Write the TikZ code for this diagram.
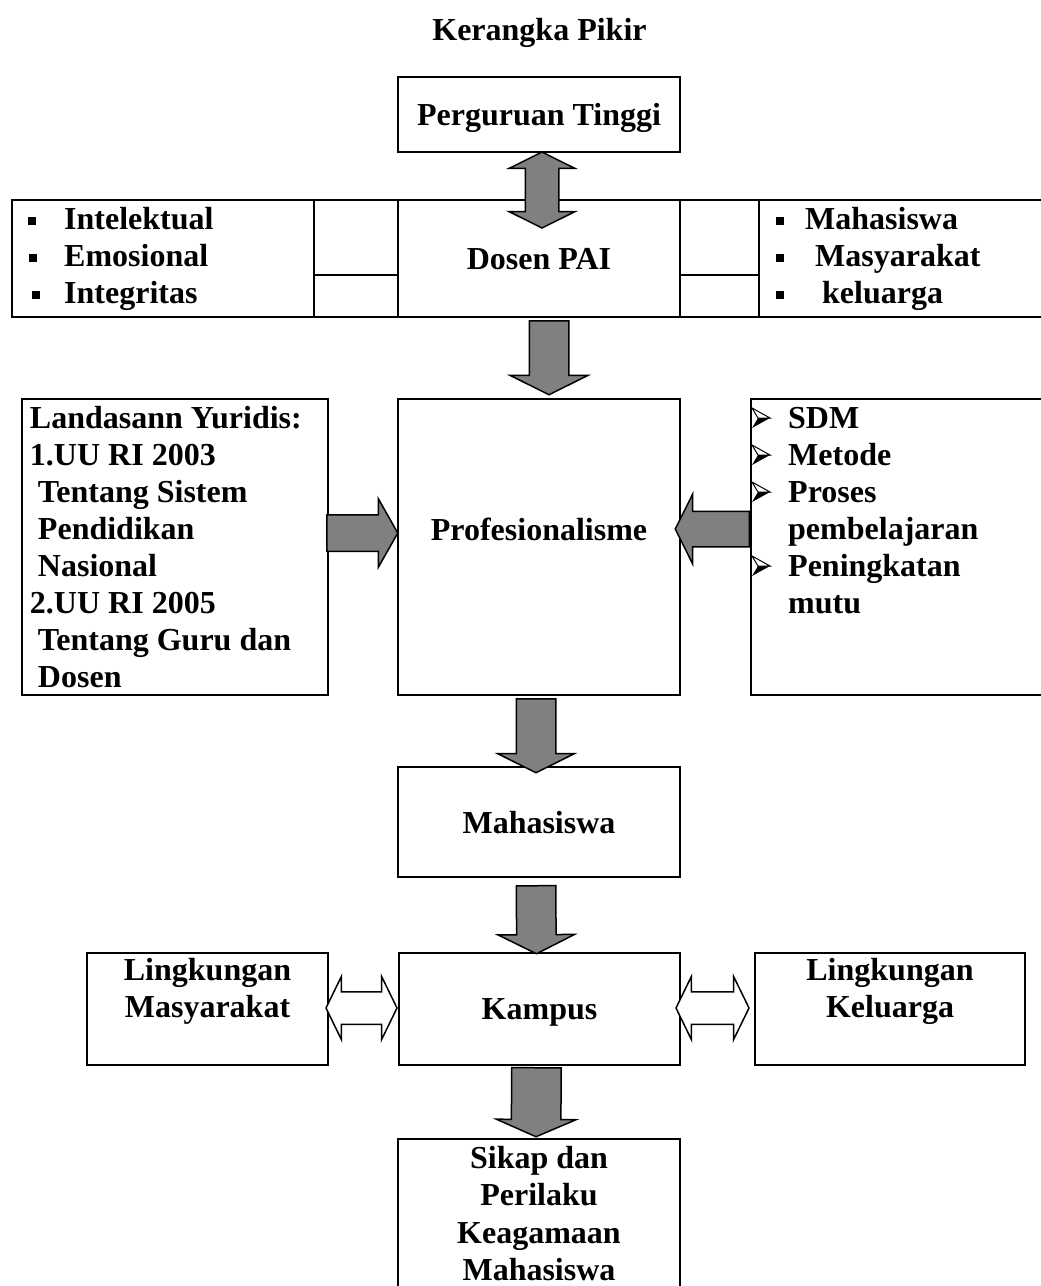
\documentclass[tikz,border=0pt]{standalone}
\usepackage{fontspec}
\setmainfont{Liberation Serif}
\usetikzlibrary{shapes.arrows}

\definecolor{arrowgray}{HTML}{808080}
\tikzset{
  box/.style={draw, line width=2.5pt, inner sep=0pt, outer sep=0pt, align=flush center},
  onebox/.style={box, text depth=0pt},
  cell/.style={draw, line width=2.5pt, inner sep=0pt, outer sep=0pt},
  txt/.style={anchor=base west, inner sep=0pt},
  fat/.style={single arrow, draw, line width=1.5pt, fill=arrowgray, inner xsep=0pt,
    sloped, allow upside down, pos=0, anchor=tail},
  twoway/.style={double arrow, draw, line width=1.5pt, fill=white, inner xsep=0pt,
    sloped, allow upside down, midway},
  headbullet/.pic={
    \draw[line width=1pt, fill=white] (0,-10) -- (18,0) -- (6,0) -- cycle;
    \fill (0,10) -- (18,0) -- (6,0) -- cycle;
  }
}

\begin{document}
\begin{tikzpicture}[x=1pt, y=-1pt, font=\fontsize{32}{37}\selectfont\bfseries]
  \useasboundingbox (0,0) rectangle (1041,1286);
  \clip (0,0) rectangle (1041,1286);

  % Title
  \node[inner sep=0pt, anchor=base] (title) at (539.5,40) {Kerangka Pikir};

  % Top
  \node[onebox, minimum width=282pt, minimum height=75pt] (pt) at (539,114.5) {Perguruan Tinggi};

  % Row of Dosen PAI
  \node[cell, minimum width=302pt, minimum height=117pt] (nilai) at (163,258.5) {};
  \node[cell, minimum width=84pt, minimum height=75pt] (gl1) at (356,237.5) {};
  \node[cell, minimum width=84pt, minimum height=42pt] (gl2) at (356,296) {};
  \node[onebox, minimum width=282pt, minimum height=117pt] (dosen) at (539,258.5) {Dosen PAI};
  \node[cell, minimum width=79pt, minimum height=75pt] (gr1) at (719.5,237.5) {};
  \node[cell, minimum width=79pt, minimum height=42pt] (gr2) at (719.5,296) {};
  \node[cell, minimum width=291pt, minimum height=117pt] (sasaran) at (904.5,258.5) {};
  \foreach \i/\bx/\name in {0/28/Intelektual,1/29/Emosional,2/32/Integritas} {
    \fill (\bx,217+37*\i) rectangle ++(8,8);
    \node[txt] (n\i) at (64,229+37*\i) {\name};
  }
  \foreach \i/\tx/\name in {0/805/Mahasiswa,1/815/Masyarakat,2/822/keluarga} {
    \fill (776,217+37*\i) rectangle ++(8,8);
    \node[txt] (s\i) at (\tx,229+37*\i) {\name};
  }

  % Middle row
  \node[box, text width=290pt, inner xsep=8pt, minimum height=296pt, align=flush left] (landasan) at (175,547)
    {Landasann Yuridis:\\1.UU RI 2003\\\hspace*{8pt}Tentang Sistem\\\hspace*{8pt}Pendidikan\\
     \hspace*{8pt}Nasional\\2.UU RI 2005\\\hspace*{8pt}Tentang Guru dan\\\hspace*{8pt}Dosen};
  \node[box, minimum width=282pt, minimum height=296pt] (prof) at (539,547) {};
  \node[inner sep=0pt, anchor=base] (proftext) at (539,540) {Profesionalisme};
  \node[box, minimum width=299pt, minimum height=296pt] (faktor) at (900.5,547) {};
  \foreach \i/\name in {0/SDM,1/Metode,2/Proses,3/pembelajaran,4/Peningkatan,5/mutu}
    \node[txt] (f\i) at (788,428+37*\i) {\name};
  \foreach \i in {0,1,2,4}
    \pic at (752,418+37*\i) {headbullet};

  % Lower part
  \node[onebox, minimum width=282pt, minimum height=110pt] (mhs) at (539,822) {Mahasiswa};
  \node[onebox, minimum width=281pt, minimum height=112pt] (kampus) at (539.5,1009) {Kampus};
  \node[box, minimum width=241pt, minimum height=112pt] (lingm) at (207.5,1009) {};
  \node[inner sep=0pt, anchor=north, align=flush center] (lingmtext) at (207.5,958) {Lingkungan\\Masyarakat};
  \node[box, minimum width=270pt, minimum height=112pt] (lingk) at (890,1009) {};
  \node[inner sep=0pt, anchor=north, align=flush center] (lingktext) at (890,958) {Lingkungan\\Keluarga};
  \node[box, minimum width=282pt, inner ysep=7pt, anchor=north, font=\fontsize{32}{37.5}\selectfont\bfseries] (sikap)
    at (539,1139) {Sikap dan\\Perilaku\\Keagamaan\\Mahasiswa};

  % Block arrows
  \path ([xshift=3pt]pt.south) -- ([xshift=3pt,yshift=-28pt]dosen.north)
    node[twoway, fill=arrowgray, minimum height=76pt, inner ysep=16pt,
      double arrow head extend=16pt, double arrow tip angle=127] (a1) {};
  \path ([xshift=10pt,yshift=-3pt]dosen.south) -- ([xshift=10pt]prof.north)
    node[fat, minimum height=74pt, inner ysep=19pt, single arrow head extend=19pt,
      single arrow tip angle=127] (a2) {};
  \path ([xshift=-3pt,yshift=-3pt]prof.south) -- ([xshift=-3pt]mhs.north)
    node[fat, minimum height=74pt, inner ysep=19pt, single arrow head extend=18.5pt,
      single arrow tip angle=127] (a3) {};
  \path ([xshift=-3pt,yshift=-8pt]mhs.south) -- ([xshift=-3pt]kampus.north)
    node[fat, minimum height=68pt, inner ysep=19pt, single arrow head extend=18.5pt,
      single arrow tip angle=127] (a4) {};
  \path ([xshift=-3pt,yshift=-2pt]kampus.south) -- ([xshift=-3pt]sikap.north)
    node[fat, minimum height=69pt, inner ysep=24pt, single arrow head extend=15pt,
      single arrow tip angle=133] (a5) {};
  \path ([xshift=-2pt,yshift=14pt]landasan.east) -- ([yshift=14pt]prof.west)
    node[fat, minimum height=71pt, inner ysep=17.5pt, single arrow head extend=16pt,
      single arrow tip angle=121] (a6) {};
  \path ([xshift=-1pt,yshift=18pt]faktor.west) -- ([yshift=18pt]prof.east)
    node[fat, minimum height=74pt, inner ysep=17pt, single arrow head extend=17pt,
      single arrow tip angle=127] (a7) {};
  \path ([xshift=-2pt,yshift=1pt]lingm.east) -- ([xshift=-2pt,yshift=1pt]kampus.west)
    node[twoway, minimum height=71pt, inner ysep=15.5pt, double arrow head extend=15.5pt,
      double arrow tip angle=128] (a8) {};
  \path ([xshift=-5pt,yshift=1pt]kampus.east) -- ([xshift=-5pt,yshift=1pt]lingk.west)
    node[twoway, minimum height=73pt, inner ysep=15.5pt, double arrow head extend=15.5pt,
      double arrow tip angle=128] (a9) {};
\end{tikzpicture}
\end{document}
